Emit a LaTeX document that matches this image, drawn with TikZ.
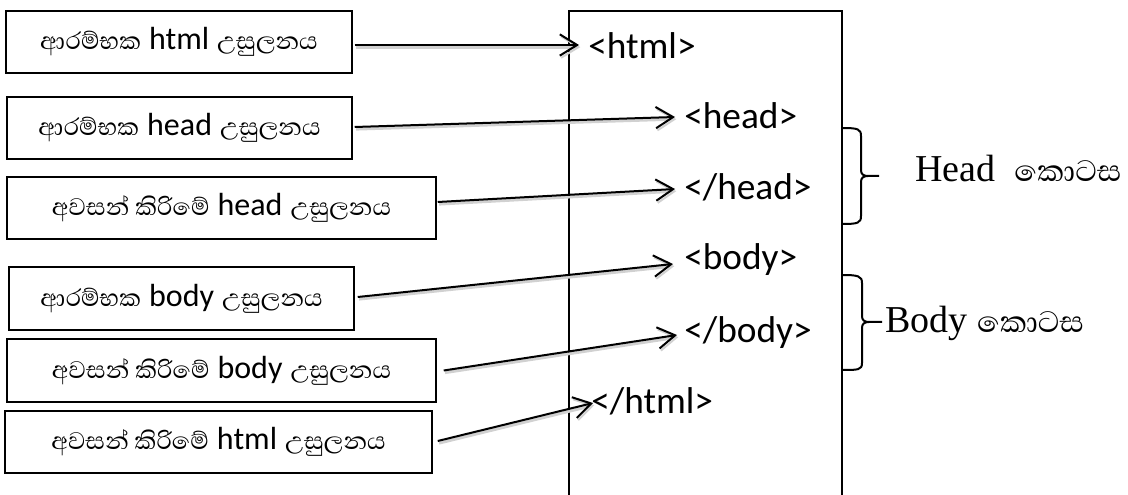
\documentclass[tikz,border=0pt]{standalone}
\usepackage{fontspec}
\setmainfont{Liberation Serif}
\newfontfamily\sinfont[Script=Sinhala]{Abhaya Libre}
\newfontfamily\latfont{Carlito}
\usetikzlibrary{arrows.meta}
\newcommand\sintext[1]{{\sinfont\fontsize{23}{27}\selectfont #1}}
\newcommand\lattext[1]{{\latfont\fontsize{24}{28}\selectfont #1}}
\newcommand\parttext[1]{{\sinfont\fontsize{28.5}{34}\selectfont #1}}
\begin{document}
\begin{tikzpicture}[x=0.75pt,y=-0.75pt,
  lbox/.style={draw,line width=1.1pt,inner sep=0pt,align=center,font=\fontsize{24}{28}\selectfont},
  tag/.style={anchor=base west,inner sep=0pt,font=\latfont\fontsize{28}{33}\selectfont},
  conn/.style={line width=1.5pt,-{Straight Barb[length=13pt,width=16pt,line width=1.5pt]},
    preaction={draw=black!18,line width=2.2pt,transform canvas={shift={(1pt,-1.6pt)}}}},
  part/.style={anchor=base west,inner sep=0pt,font=\fontsize{28.5}{34}\selectfont},
  frame/.style={line width=1.5pt},
  brace/.style={line width=1.5pt}]
\useasboundingbox (0,0) rectangle (1128,495);
% left boxes
\node[lbox,minimum width=259.5pt,minimum height=46.5pt] (b1) at (179,42) {\sintext{ආරම්භක} \lattext{html} \sintext{උසුලනය}};
\node[lbox,minimum width=258.75pt,minimum height=46.5pt] (b2) at (179.5,128) {\sintext{ආරම්භක} \lattext{head} \sintext{උසුලනය}};
\node[lbox,minimum width=321.75pt,minimum height=46.5pt] (b3) at (221.5,208) {\sintext{අවසන් කිරිමේ} \lattext{head} \sintext{උසුලනය}};
\node[lbox,minimum width=258.75pt,minimum height=47.25pt] (b4) at (181.5,298.5) {\sintext{ආරම්භක} \lattext{body} \sintext{උසුලනය}};
\node[lbox,minimum width=321.75pt,minimum height=47.25pt] (b5) at (221.5,370.5) {\sintext{අවසන් කිරිමේ} \lattext{body} \sintext{උසුලනය}};
\node[lbox,minimum width=320.25pt,minimum height=46.5pt] (b6) at (218.5,442) {\sintext{අවසන් කිරිමේ} \lattext{html} \sintext{උසුලනය}};
% document frame
\draw[frame] (569,496) -- (569,11) -- (842,11) -- (842,496);
% tags
\node[tag] (t1) at (588,59) {<html>};
\node[tag] (t2) at (684,129) {<head>};
\node[tag] (t3) at (684,200) {</head>};
\node[tag] (t4) at (684,270) {<body>};
\node[tag] (t5) at (684,342) {</body>};
\node[tag] (t6) at (591,413) {</html>};
% connectors
\draw[conn] ([shift={(2,3)}]b1.east) -- ([shift={(-9,-14)}]t1.base west);
\draw[conn] ([shift={(2,-1)}]b2.east) -- ([shift={(-9,-12)}]t2.base west);
\draw[conn] ([shift={(1,-6)}]b3.east) -- ([shift={(-9,-11)}]t3.base west);
\draw[conn] ([shift={(3,-1.5)}]b4.east) -- ([shift={(-11,-6)}]t4.base west);
\draw[conn] ([shift={(7,0)}]b5.east) -- ([shift={(-7,-7)}]t5.base west);
\draw[conn] ([shift={(5,-1)}]b6.east) -- ([shift={(2,-10)}]t6.base west);
% braces
\draw[brace] (842,128) .. controls (858,128) and (861,129) .. (861,136) -- (861,170)
  .. controls (861,174) and (863,176) .. (868,176) -- (879,176);
\draw[brace] (868,176) .. controls (863,176) and (861,178) .. (861,182) -- (861,216)
  .. controls (861,223) and (858,224) .. (842,224);
\draw[brace] (842,275) .. controls (858,275) and (862,276) .. (862,283) -- (862,316)
  .. controls (862,320) and (864,322) .. (869,322) -- (882,322);
\draw[brace] (869,322) .. controls (864,322) and (862,324) .. (862,328) -- (862,363)
  .. controls (862,370) and (858,370) .. (842,370);
% part labels
\node[part] (hp) at (915,182) {Head\ \ \parttext{කොටස}};
\node[part] (bp) at (885,333) {Body \parttext{කොටස}};
\end{tikzpicture}
\end{document}
